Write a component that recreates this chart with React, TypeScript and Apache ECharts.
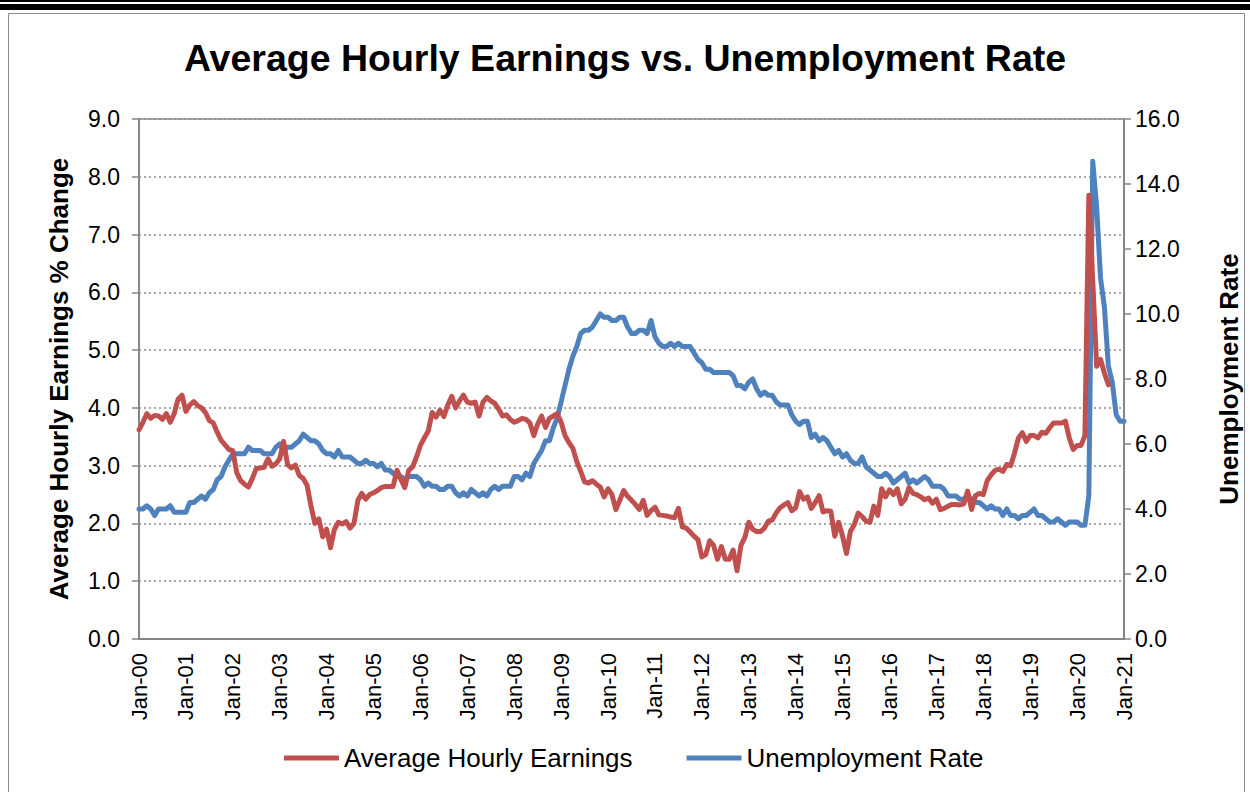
import React, { useEffect, useRef } from "react";
import * as echarts from "echarts";

const FONT = "'Liberation Sans', Arial, Helvetica, sans-serif";

const monthNames = ["Jan", "Feb", "Mar", "Apr", "May", "Jun", "Jul", "Aug", "Sep", "Oct", "Nov", "Dec"];
const startYear = 2000;
const endYear = 2021; // axis ends at Jan-21

// Average Hourly Earnings, % change (monthly points from the Jan-00 tick)
const earnings = [
  3.62, 3.75, 3.90, 3.82, 3.87, 3.86, 3.80, 3.90, 3.75, 3.90, 4.15, 4.22,
  3.94, 4.05, 4.11, 4.04, 4.00, 3.92, 3.78, 3.74, 3.58, 3.44, 3.36, 3.28,
  3.26, 2.88, 2.74, 2.68, 2.63, 2.78, 2.95, 2.96, 2.97, 3.12, 2.99, 3.03,
  3.12, 3.42, 3.02, 2.96, 3.01, 2.83, 2.78, 2.66, 2.30, 2.00, 2.08, 1.77,
  1.90, 1.58, 1.90, 2.02, 1.99, 2.03, 1.92, 2.00, 2.40, 2.52, 2.42, 2.50,
  2.53, 2.57, 2.62, 2.64, 2.64, 2.64, 2.92, 2.76, 2.62, 2.92, 2.98, 3.15,
  3.35, 3.48, 3.60, 3.92, 3.84, 3.96, 3.85, 4.05, 4.20, 4.00, 4.12, 4.22,
  4.10, 4.08, 4.10, 3.86, 4.10, 4.18, 4.12, 4.08, 3.98, 3.86, 3.88, 3.80,
  3.75, 3.78, 3.82, 3.80, 3.74, 3.52, 3.72, 3.86, 3.66, 3.82, 3.86, 3.90,
  3.75, 3.52, 3.40, 3.30, 3.07, 2.90, 2.72, 2.70, 2.74, 2.68, 2.63, 2.46,
  2.60, 2.50, 2.24, 2.40, 2.57, 2.47, 2.40, 2.33, 2.24, 2.40, 2.14, 2.22,
  2.28, 2.15, 2.14, 2.13, 2.11, 2.10, 2.26, 1.94, 1.92, 1.85, 1.78, 1.72,
  1.42, 1.46, 1.70, 1.62, 1.38, 1.60, 1.38, 1.38, 1.54, 1.18, 1.62, 1.76,
  2.02, 1.90, 1.86, 1.86, 1.92, 2.04, 2.06, 2.18, 2.27, 2.32, 2.36, 2.22,
  2.27, 2.55, 2.42, 2.46, 2.26, 2.36, 2.48, 2.20, 2.22, 2.21, 1.78, 2.02,
  1.78, 1.48, 1.86, 1.98, 2.18, 2.12, 2.04, 2.02, 2.30, 2.14, 2.60, 2.46,
  2.58, 2.50, 2.60, 2.34, 2.42, 2.62, 2.52, 2.50, 2.46, 2.41, 2.44, 2.35,
  2.42, 2.24, 2.26, 2.30, 2.33, 2.33, 2.32, 2.34, 2.56, 2.24, 2.48, 2.52,
  2.50, 2.74, 2.84, 2.92, 2.94, 2.90, 3.02, 3.00, 3.22, 3.48, 3.57, 3.42,
  3.52, 3.52, 3.48, 3.58, 3.56, 3.66, 3.74, 3.74, 3.74, 3.77, 3.48, 3.28,
  3.35, 3.35, 3.52, 7.68, 6.20, 4.72, 4.84, 4.60, 4.40,
];

// Unemployment Rate, % (month-end points: Dec 1999 at the Jan-00 tick ... Dec 2020 at Jan-21)
const unemployment = [
  4.0,
  4.0, 4.1, 4.0, 3.8, 4.0, 4.0, 4.0, 4.1, 3.9, 3.9, 3.9, 3.9,
  4.2, 4.2, 4.3, 4.4, 4.3, 4.5, 4.6, 4.9, 5.0, 5.3, 5.5, 5.7,
  5.7, 5.7, 5.7, 5.9, 5.8, 5.8, 5.8, 5.7, 5.7, 5.7, 5.9, 6.0,
  5.8, 5.9, 5.9, 6.0, 6.1, 6.3, 6.2, 6.1, 6.1, 6.0, 5.8, 5.7,
  5.7, 5.6, 5.8, 5.6, 5.6, 5.6, 5.5, 5.4, 5.4, 5.5, 5.4, 5.4,
  5.3, 5.4, 5.2, 5.2, 5.1, 5.0, 5.0, 4.9, 5.0, 5.0, 5.0, 4.9,
  4.7, 4.8, 4.7, 4.7, 4.6, 4.6, 4.7, 4.7, 4.5, 4.4, 4.5, 4.4,
  4.6, 4.5, 4.4, 4.5, 4.4, 4.6, 4.7, 4.6, 4.7, 4.7, 4.7, 5.0,
  5.0, 4.9, 5.1, 5.0, 5.4, 5.6, 5.8, 6.1, 6.1, 6.5, 6.8, 7.3,
  7.8, 8.3, 8.7, 9.0, 9.4, 9.5, 9.5, 9.6, 9.8, 10.0, 9.9, 9.9,
  9.8, 9.8, 9.9, 9.9, 9.6, 9.4, 9.4, 9.5, 9.5, 9.4, 9.8, 9.3,
  9.1, 9.0, 9.0, 9.1, 9.0, 9.1, 9.0, 9.0, 9.0, 8.8, 8.6, 8.5,
  8.3, 8.3, 8.2, 8.2, 8.2, 8.2, 8.2, 8.1, 7.8, 7.8, 7.7, 7.9,
  8.0, 7.7, 7.5, 7.6, 7.5, 7.5, 7.3, 7.2, 7.2, 7.2, 6.9, 6.7,
  6.6, 6.7, 6.7, 6.2, 6.3, 6.1, 6.2, 6.1, 5.9, 5.7, 5.8, 5.6,
  5.7, 5.5, 5.4, 5.4, 5.6, 5.3, 5.2, 5.1, 5.0, 5.0, 5.1, 5.0,
  4.8, 4.9, 5.0, 5.1, 4.8, 4.9, 4.8, 4.9, 5.0, 4.9, 4.7, 4.7,
  4.7, 4.6, 4.4, 4.4, 4.4, 4.3, 4.3, 4.4, 4.3, 4.2, 4.2, 4.1,
  4.0, 4.1, 4.0, 4.0, 3.8, 4.0, 3.8, 3.8, 3.7, 3.8, 3.8, 3.9,
  4.0, 3.8, 3.8, 3.7, 3.6, 3.6, 3.7, 3.6, 3.5, 3.6, 3.6, 3.6,
  3.5, 3.5, 4.4, 14.7, 13.3, 11.1, 10.2, 8.4, 7.9, 6.9, 6.7, 6.7,
];

const leftTicks = { min: 0, max: 9, interval: 1 };
const rightTicks = { min: 0, max: 16, interval: 2 };

function buildCategories(): string[] {
  const out: string[] = [];
  for (let y = startYear; y < endYear; y++) {
    for (const m of monthNames) out.push(`${m}-${String(y % 100).padStart(2, "0")}`);
  }
  out.push(`Jan-${String(endYear % 100).padStart(2, "0")}`);
  return out;
}

export default function App() {
  const ref = useRef<HTMLDivElement>(null);
  useEffect(() => {
    document.body.style.margin = "0";
    if (!ref.current) return;
    const chart = echarts.init(ref.current, null, { renderer: "svg" });
    const categories = buildCategories();
    const pad = (arr: number[]) => categories.map((_, i) => (i < arr.length ? arr[i] : null));
    const axisGray = "#868686";
    chart.setOption({
      animation: false,
      backgroundColor: "#ffffff",
      textStyle: { fontFamily: FONT },
      title: {
        text: "Average Hourly Earnings vs. Unemployment Rate",
        left: "center",
        top: 34,
        textStyle: { fontFamily: FONT, fontSize: 37.5, fontWeight: "bold", color: "#000" },
      },
      graphic: [
        { type: "rect", shape: { x: 0, y: 0, width: 1250, height: 2 }, style: { fill: "#000" } },
        { type: "rect", shape: { x: 0, y: 4, width: 1250, height: 6 }, style: { fill: "#000" } },
        {
          type: "rect",
          shape: { x: 8.5, y: 13.5, width: 1236, height: 800 },
          style: { fill: "none", stroke: "#8c8c8c", lineWidth: 1 },
          silent: true,
        },
      ],
      grid: {
        left: 139,
        right: 121,
        top: 119,
        bottom: 153,
        show: true,
        borderColor: axisGray,
        borderWidth: 1.5,
        backgroundColor: "transparent",
      },
      legend: {
        left: 279,
        top: 740,
        itemWidth: 55,
        itemHeight: 5,
        itemGap: 54,
        icon: "rect",
        textStyle: { fontFamily: FONT, fontSize: 26, color: "#000" },
        data: ["Average Hourly Earnings", "Unemployment Rate"],
      },
      xAxis: {
        type: "category",
        data: categories,
        boundaryGap: false,
        axisLine: { lineStyle: { color: axisGray, width: 2 } },
        axisTick: { show: false },
        axisLabel: {
          interval: 11,
          rotate: 90,
          fontFamily: FONT,
          fontSize: 22,
          color: "#000",
          margin: 14,
        },
        splitLine: { show: false },
      },
      yAxis: [
        {
          type: "value",
          ...leftTicks,
          position: "left",
          name: "Average Hourly Earnings % Change",
          nameLocation: "middle",
          nameGap: 67,
          nameTextStyle: { fontFamily: FONT, fontWeight: "bold", fontSize: 26, color: "#000" },
          axisLine: { show: true, lineStyle: { color: axisGray, width: 2 } },
          axisTick: { show: true, length: 7, lineStyle: { color: axisGray, width: 1.5 } },
          axisLabel: {
            formatter: (v: number) => v.toFixed(1),
            fontFamily: FONT,
            fontSize: 23,
            color: "#000",
            margin: 19,
          },
          splitLine: { show: true, lineStyle: { type: [2, 3], color: "#8c8c8c", width: 1.5 } },
        },
        {
          type: "value",
          ...rightTicks,
          position: "right",
          name: "Unemployment Rate",
          nameLocation: "middle",
          nameGap: 92,
          nameTextStyle: { fontFamily: FONT, fontWeight: "bold", fontSize: 26, color: "#000" },
          axisLine: { show: true, lineStyle: { color: axisGray, width: 2 } },
          axisTick: { show: true, length: 7, lineStyle: { color: axisGray, width: 1.5 } },
          axisLabel: {
            formatter: (v: number) => v.toFixed(1),
            fontFamily: FONT,
            fontSize: 23,
            color: "#000",
            margin: 11,
          },
          splitLine: { show: false },
        },
      ],
      series: [
        {
          name: "Average Hourly Earnings",
          type: "line",
          yAxisIndex: 0,
          data: pad(earnings),
          showSymbol: false,
          symbol: "none",
          lineStyle: { color: "#C0504D", width: 5, join: "round", cap: "round" },
          itemStyle: { color: "#C0504D" },
          z: 3,
        },
        {
          name: "Unemployment Rate",
          type: "line",
          yAxisIndex: 1,
          data: pad(unemployment),
          showSymbol: false,
          symbol: "none",
          lineStyle: { color: "#4F81BD", width: 5, join: "round", cap: "round" },
          itemStyle: { color: "#4F81BD" },
          z: 2,
        },
      ],
    });
    return () => chart.dispose();
  }, []);
  return (
    <div
      ref={ref}
      style={{ position: "fixed", left: 0, top: 0, width: 1250, height: 792, background: "#fff" }}
    />
  );
}
